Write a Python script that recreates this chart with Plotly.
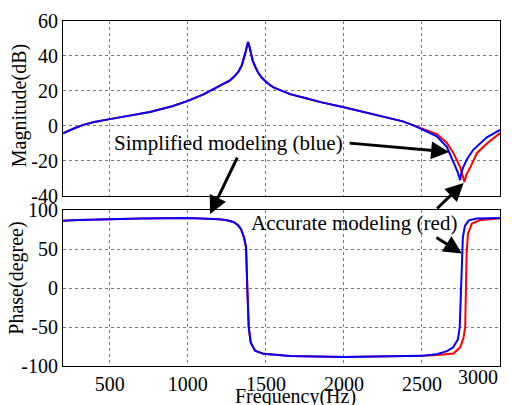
import plotly.graph_objects as go

# ---------------- data ----------------
# Magnitude (dB): part shared by both models
freq_mag_common = [200, 230, 266, 330, 400, 500, 600, 757, 900, 1000, 1100, 1200, 1270, 1300,
                   1324, 1345, 1356, 1368, 1377, 1386, 1394, 1403, 1415, 1431, 1450, 1474,
                   1510, 1548, 1600, 1655, 1757, 1850, 1993, 2100, 2249, 2377, 2450]
mag_common = [-4.3, -3.0, -1.6, 0.6, 2.2, 3.9, 5.4, 8.0, 11.3, 14.3, 18.0, 22.5, 26.0, 28.5,
              31.0, 34.5, 37.5, 41.5, 45.0, 48.0, 45.5, 41.5, 37.5, 34.0, 30.5, 27.5,
              24.5, 22.0, 20.0, 18.2, 15.8, 13.6, 10.8, 8.5, 5.4, 2.6, 0.2]
# Magnitude near the notch
freq_mag_blue_tail = [2495, 2595, 2659, 2702, 2725, 2738, 2745, 2752, 2765, 2788, 2830, 2916, 3000]
mag_blue_tail = [-1.6, -5.9, -12.0, -20.2, -25.5, -29.0, -31.0, -27.0, -23.5, -19.0, -13.5, -6.5, -2.3]
freq_mag_red_tail = [2495, 2595, 2659, 2702, 2745, 2760, 2772, 2784, 2809, 2852, 2916, 3000]
mag_red_tail = [-1.4, -4.7, -9.6, -15.6, -23.5, -28.0, -32.0, -28.0, -23.8, -15.6, -10.1, -4.1]

# Phase (degree): part shared by both models
freq_ph_common = [200, 300, 500, 700, 1000, 1150, 1200, 1250, 1292, 1320, 1340, 1360, 1373,
                  1381, 1390, 1403, 1431, 1484, 1655, 2000, 2300, 2500]
ph_common = [86.5, 87.5, 88.5, 89.5, 90.0, 89.5, 88.5, 87.0, 85.0, 81.0, 76.0, 65.0, 52.0,
             0.0, -50.0, -70.0, -80.4, -84.4, -87.3, -88.6, -88.0, -87.0]
freq_ph_blue_tail = [2600, 2660, 2700, 2730, 2742, 2750, 2756, 2762, 2775, 2800, 2850, 3000]
ph_blue_tail = [-84.5, -81.0, -76.0, -66.0, -50.0, 0.0, 45.0, 65.0, 80.0, 87.0, 89.5, 90.0]
freq_ph_red_tail = [2600, 2660, 2702, 2745, 2766, 2777, 2781, 2786, 2795, 2820, 2873, 3000]
ph_red_tail = [-86.0, -85.0, -84.0, -76.0, -64.0, -50.0, 0.0, 45.0, 70.0, 83.0, 87.4, 89.3]

# axes / ticks
x_range = [200, 3000]
x_tick_vals = [500, 1000, 1500, 2000, 2500, 3000]
x_tick_text = ["500", "1000", "1500", "2000", "2500", "3000"]
mag_range = [-40, 60]
mag_tick_vals = [-40, -20, 0, 20, 40, 60]
mag_tick_text = ["-40", "-20", "0", "20", "40", "60"]
ph_range = [-100, 100]
ph_tick_vals = [-100, -50, 0, 50, 100]
ph_tick_text = ["-100", "-50", "0", "50", "100"]

FONT = "Liberation Serif"
FS = 20
GRID = "#7a7a7a"

fig = go.Figure()
fig.add_trace(go.Scatter(x=freq_mag_common + freq_mag_red_tail, y=mag_common + mag_red_tail,
                         mode="lines", line=dict(color="red", width=2), xaxis="x", yaxis="y"))
fig.add_trace(go.Scatter(x=freq_mag_common + freq_mag_blue_tail, y=mag_common + mag_blue_tail,
                         mode="lines", line=dict(color="blue", width=2), xaxis="x", yaxis="y"))
fig.add_trace(go.Scatter(x=freq_ph_common + freq_ph_red_tail, y=ph_common + ph_red_tail,
                         mode="lines", line=dict(color="red", width=2), xaxis="x2", yaxis="y2"))
fig.add_trace(go.Scatter(x=freq_ph_common + freq_ph_blue_tail, y=ph_common + ph_blue_tail,
                         mode="lines", line=dict(color="blue", width=2), xaxis="x2", yaxis="y2"))

axis_common = dict(showgrid=True, gridcolor=GRID, griddash="dot", gridwidth=1,
                   showline=True, linecolor="black", linewidth=1, mirror=True,
                   zeroline=False, ticks="", tickfont=dict(family=FONT, size=FS, color="black"))

fig.update_layout(
    width=512, height=405,
    margin=dict(l=63, r=12, t=10, b=34),
    paper_bgcolor="white", plot_bgcolor="white",
    showlegend=False,
    font=dict(family=FONT, size=FS, color="black"),
    xaxis=dict(domain=[0, 1], anchor="y", range=x_range, tickvals=x_tick_vals[:-1],
               showticklabels=False, **axis_common),
    yaxis=dict(domain=[0.4931, 1], anchor="x", range=mag_range, tickvals=mag_tick_vals,
               ticktext=mag_tick_text, **axis_common),
    xaxis2=dict(domain=[0, 1], anchor="y2", range=x_range, tickvals=x_tick_vals[:-1],
                ticktext=x_tick_text[:-1], **axis_common),
    yaxis2=dict(domain=[0, 0.4515], anchor="x2", range=ph_range, tickvals=ph_tick_vals,
                ticktext=ph_tick_text, **axis_common),
)

tf = dict(family=FONT, size=FS, color="black")
tf_ann = dict(family=FONT, size=21, color="black")
ann = []
# last x tick label, kept inside the figure
ann.append(dict(text=x_tick_text[-1], x=x_tick_vals[-1], xref="x2", xanchor="right",
                y=-0.0305, yref="paper", yanchor="middle", showarrow=False, font=tf))
# axis titles
ann.append(dict(text="Magnitude(dB)", textangle=-90, x=-0.1007, xref="paper", xanchor="center",
                y=0.756, yref="paper", yanchor="middle", showarrow=False, font=tf))
ann.append(dict(text="Phase(degree)", textangle=-90, x=-0.1053, xref="paper", xanchor="center",
                y=0.256, yref="paper", yanchor="middle", showarrow=False, font=tf))
ann.append(dict(text="Frequency(Hz)", x=0.532, xref="paper", xanchor="center",
                y=-0.089, yref="paper", yanchor="middle", showarrow=False, font=tf))
# labels
ann.append(dict(text="Simplified modeling (blue)", x=515, xref="x", xanchor="left",
                y=-10, yref="y", yanchor="middle", showarrow=False, font=tf_ann))
ann.append(dict(text="Accurate modeling (red)", x=1392, xref="x2", xanchor="left",
                y=84, yref="y2", yanchor="middle", showarrow=False, font=tf_ann))
# arrows
arrow_style = dict(text="", showarrow=True, arrowhead=2, arrowsize=1.2, arrowwidth=3,
                   arrowcolor="black", axref="pixel", ayref="pixel")
ann.append(dict(x=2674, xref="x", y=-14.9, yref="y", ax=-101, ay=-9, **arrow_style))
ann.append(dict(x=1142, xref="x2", y=95, yref="y2", ax=28, ay=-58, **arrow_style))
ann.append(dict(x=2767, xref="x", y=-32.6, yref="y", ax=-28, ay=27, **arrow_style))
ann.append(dict(x=2756, xref="x2", y=44.4, yref="y2", ax=-27, ay=-17, **arrow_style))
fig.update_layout(annotations=ann)

fig.write_html("out.html")
